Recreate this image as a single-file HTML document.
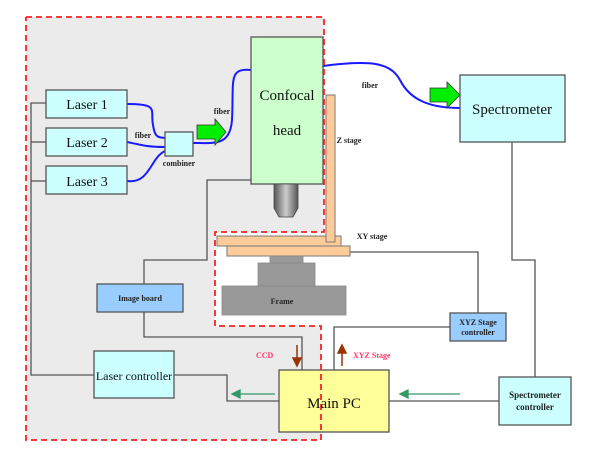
<!DOCTYPE html>
<html><head><meta charset="utf-8"><style>
html,body{margin:0;padding:0;background:#fff}
svg{display:block}
text{font-family:"Liberation Serif",serif}
</style></head><body>
<svg width="600" height="452" viewBox="0 0 600 452" xmlns="http://www.w3.org/2000/svg">
<polygon points="26,17 324,17 324,232 215,232 215,326 321,326 321,440 26,440" fill="#ebebeb"/>
<rect x="215" y="232" width="110" height="94" fill="#fff"/>
<!-- connector lines -->
<g fill="none" stroke="#555" stroke-width="1.3">
<polyline points="46,103 31,103 31,375 94,375"/>
<line x1="31" y1="142" x2="46" y2="142"/>
<line x1="31" y1="181" x2="46" y2="181"/>
<polyline points="251,180 207,180 207,260 144,260 144,284"/>
<polyline points="144,312 144,337 302,337 302,370"/>
<polyline points="174,375 227,375 227,401 279,401"/>
<polyline points="350,252 478,252 478,313"/>
<polyline points="450,327 334,327 334,370"/>
<polyline points="512,142 512,260 535,260 535,377"/>
<line x1="389" y1="401" x2="499" y2="401"/>
</g>
<!-- fibers -->
<g fill="none" stroke="#1a1aff" stroke-width="2">
<path d="M127,104 C160,104 150,110 153,125 C155,138 158,137 165,138"/>
<path d="M127,142 C145,146 150,147 165,147"/>
<path d="M127,181 C150,184 150,158 165,151"/>
<path d="M193,143 C215,143 230,146 232,120 C234,80 228,68 251,70"/>
<path d="M323,66 C370,60 390,62 400,80 C410,100 430,108 460,108"/>
</g>
<!-- boxes -->
<g stroke="#555" stroke-width="1.3">
<rect x="46" y="90" width="81" height="28" fill="#ccffff"/>
<rect x="46" y="128" width="81" height="28" fill="#ccffff"/>
<rect x="46" y="166" width="81" height="28" fill="#ccffff"/>
<rect x="165" y="132" width="28" height="24" fill="#ccffff"/>
<rect x="251" y="37" width="72" height="147" fill="#ccffcc"/>
<rect x="460" y="75" width="105" height="67" fill="#ccffff"/>
<rect x="97" y="284" width="86" height="28" fill="#99ccff"/>
<rect x="94" y="351" width="80" height="47" fill="#ccffff"/>
<rect x="279" y="370" width="110" height="62" fill="#ffff99"/>
<rect x="450" y="313" width="56" height="28" fill="#99ccff"/>
<rect x="499" y="377" width="72" height="48" fill="#ccffff"/>
</g>
<!-- objective -->
<defs><linearGradient id="g" x1="0" x2="1"><stop offset="0" stop-color="#555"/><stop offset="0.5" stop-color="#ccc"/><stop offset="1" stop-color="#555"/></linearGradient></defs>
<path d="M274,184 H298 V208 L293,217 H279 L274,208 Z" fill="url(#g)" stroke="#444" stroke-width="0.8"/>
<!-- stages -->
<g fill="#ffcc99" stroke="#777" stroke-width="1">
<rect x="217" y="236" width="124" height="10"/>
<rect x="227" y="246" width="123" height="10"/>
<rect x="326" y="95" width="9" height="147"/>
</g>
<g fill="#999" stroke="#888" stroke-width="0.8">
<rect x="270" y="256" width="33" height="7"/>
<rect x="258" y="263" width="57" height="23"/>
<rect x="222" y="286" width="124" height="29"/>
</g>
<!-- red dashed outline -->
<polyline points="26,17 324,17 324,232 215,232 215,326 321,326 321,440 26,440 26,17" fill="none" stroke="#ff2020" stroke-width="1.8" stroke-dasharray="6,4"/>
<!-- green arrows -->
<g fill="#00ee00" stroke="#333" stroke-width="0.8">
<polygon points="197,125 215,125 215,119 226,132 215,145 215,139 197,139"/>
<polygon points="430,88 447,88 447,82 460,95 447,108 447,102 430,102"/>
</g>
<g stroke="#339966" stroke-width="1.3" fill="#339966">
<line x1="275" y1="394" x2="238" y2="394"/><polygon points="232,394 240,390 240,398"/>
<line x1="460" y1="394" x2="406" y2="394"/><polygon points="400,394 408,390 408,398"/>
</g>
<g stroke="#993300" stroke-width="1.5" fill="#993300">
<line x1="297" y1="345" x2="297" y2="359"/><polygon points="297,366 293,358 301,358"/>
<line x1="342" y1="366" x2="342" y2="352"/><polygon points="342,345 338,353 346,353"/>
</g>
<!-- text -->
<g font-size="14" text-anchor="middle" fill="#111">
<text x="87" y="109">Laser 1</text>
<text x="87" y="147">Laser 2</text>
<text x="87" y="186">Laser 3</text>
<text x="287" y="100" font-size="15">Confocal</text>
<text x="287" y="135" font-size="15">head</text>
<text x="512" y="114" font-size="15">Spectrometer</text>
<text x="334" y="408" font-size="15">Main PC</text>
<text x="134" y="380" font-size="12">Laser controller</text>
</g>
<g font-size="8" font-weight="bold" text-anchor="middle" fill="#222">
<text x="143" y="138">fiber</text>
<text x="222" y="114">fiber</text>
<text x="179" y="166">combiner</text>
<text x="370" y="88">fiber</text>
<text x="349" y="143">Z stage</text>
<text x="372" y="239">XY stage</text>
<text x="282" y="304">Frame</text>
<text x="140" y="301">Image board</text>
<text x="478" y="325">XYZ Stage</text>
<text x="478" y="335">controller</text>
<text x="535" y="398" font-size="9">Spectrometer</text>
<text x="535" y="410" font-size="9">controller</text>
</g>
<g font-size="8" font-weight="bold" fill="#ff3366">
<text x="256" y="358">CCD</text>
<text x="353" y="358">XYZ Stage</text>
</g>
</svg>
</body></html>
